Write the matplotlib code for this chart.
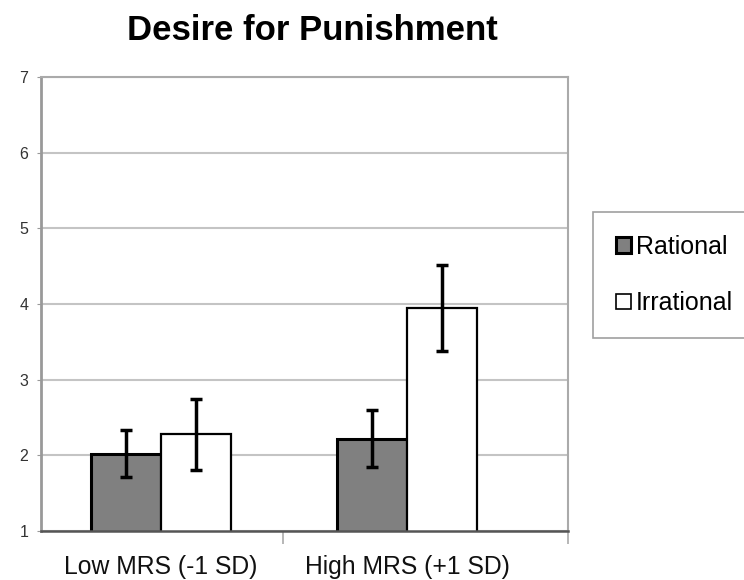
import matplotlib
matplotlib.use("Agg")
import matplotlib.pyplot as plt
from matplotlib.patches import Patch
import numpy as np

plt.rcParams['font.family'] = ['Liberation Sans', 'DejaVu Sans']

categories = ["Low MRS (-1 SD)", "High MRS (+1 SD)"]
series = ["Rational", "Irrational"]
rational = [2.02, 2.22]
irrational = [2.28, 3.95]
rational_err = [0.31, 0.38]
irrational_err = [0.47, 0.57]
yticks = [1, 2, 3, 4, 5, 6, 7]

fig = plt.figure(figsize=(7.44, 5.8), dpi=100)
ax = fig.add_axes([41/744, (580-531)/580, (568-41)/744, (531-77)/580])

x = np.arange(len(categories))
w = 0.285
ekw = dict(elinewidth=2.5, capthick=2.5, ecolor='black')
ax.bar(x - w/2, rational, w, bottom=0, color='#808080', edgecolor='black',
       linewidth=2.2, yerr=rational_err, capsize=4, error_kw=ekw, zorder=3)
ax.bar(x + w/2, irrational, w, bottom=0, color='white', edgecolor='black',
       linewidth=1.6, yerr=irrational_err, capsize=4, error_kw=ekw, zorder=3)

ax.set_ylim(1, 7)
ax.set_xlim(-0.488, 0.654 + 1)
ax.set_yticks(yticks)
ax.set_yticklabels([str(t) for t in yticks], fontsize=11.5, color='#333333')
ax.yaxis.grid(True, color='#c4c4c4', linewidth=1.5, zorder=0)
ax.set_axisbelow(True)
ax.tick_params(axis='y', length=3, color='#999999', pad=6)

ax.set_xticks(x)
ax.set_xticklabels(categories, fontsize=17.8, color='#111111')
ax.tick_params(axis='x', which='major', length=0, pad=17)
ax.set_xticks([0.496, 1.654], minor=True)
ax.tick_params(axis='x', which='minor', length=9, color='#aaaaaa', width=1.2)

ax.spines['left'].set_color('#999999')
ax.spines['left'].set_linewidth(2)
ax.spines['bottom'].set_color('#555555')
ax.spines['bottom'].set_linewidth(1.8)
ax.spines['bottom'].set_zorder(4)
for s in ['top', 'right']:
    ax.spines[s].set_color('#aaaaaa')
    ax.spines[s].set_linewidth(1.5)

fig.text(312/744, 1 - 30/580, "Desire for Punishment", ha='center', va='center',
         fontsize=25, fontweight='bold')

handles = [Patch(facecolor='#808080', edgecolor='black', linewidth=2.2),
           Patch(facecolor='white', edgecolor='black', linewidth=1.2)]
leg = fig.legend(handles, series, loc='center left',
                 bbox_to_anchor=(593/744, 1 - 275/580), fontsize=18,
                 frameon=True, fancybox=False, edgecolor='#888888',
                 handlelength=0.6, handleheight=0.6, handletextpad=0.2,
                 labelspacing=1.3, borderpad=0.9, borderaxespad=0)
leg.get_frame().set_linewidth(1.2)

fig.savefig("out.png", dpi=100)
